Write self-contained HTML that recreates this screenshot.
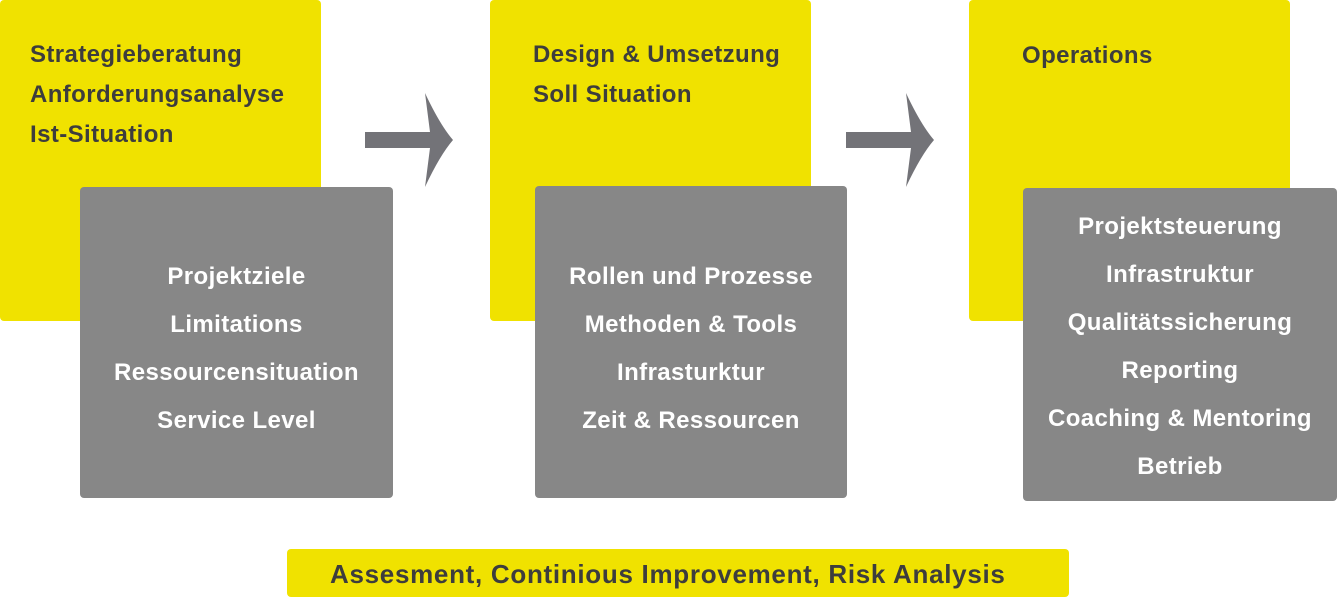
<!DOCTYPE html>
<html><head><meta charset="utf-8"><style>
body{margin:0;width:1337px;height:599px;background:#fff;position:relative;overflow:hidden;font-family:"Liberation Sans",sans-serif;font-weight:bold}
.y{position:absolute;background:#f0e200;border-radius:4px;color:#3d3d3d;font-size:24px;letter-spacing:0.4px}
.g{position:absolute;background:#878787;border-radius:4px;color:#fff;font-size:24px;letter-spacing:0.4px;text-align:center}
.y div{position:absolute;left:30px;height:40px;line-height:40px;white-space:nowrap}
.g div{height:48px;line-height:48px;white-space:nowrap}
</style></head><body>
<div class="y" style="left:0;top:0;width:321px;height:321px">
<div style="top:35px">Strategieberatung</div><div style="top:75px">Anforderungsanalyse</div><div style="top:115px">Ist-Situation</div></div>
<div class="g" style="left:80px;top:187px;width:313px;height:311px;padding-top:66px;box-sizing:border-box">
<div>Projektziele</div><div>Limitations</div><div>Ressourcensituation</div><div>Service Level</div></div>
<div class="y" style="left:490px;top:0;width:321px;height:321px">
<div style="top:35px;left:43px">Design &amp; Umsetzung</div><div style="top:75px;left:43px">Soll Situation</div></div>
<div class="g" style="left:535px;top:186px;width:312px;height:312px;padding-top:67px;box-sizing:border-box">
<div>Rollen und Prozesse</div><div>Methoden &amp; Tools</div><div>Infrasturktur</div><div>Zeit &amp; Ressourcen</div></div>
<div class="y" style="left:969px;top:0;width:321px;height:321px">
<div style="top:36px;left:53px">Operations</div></div>
<div class="g" style="left:1023px;top:188px;width:314px;height:313px;padding-top:15px;box-sizing:border-box">
<div>Projektsteuerung</div><div>Infrastruktur</div><div>Qualitätssicherung</div><div>Reporting</div><div>Coaching &amp; Mentoring</div><div>Betrieb</div></div>
<div class="y" style="left:287px;top:549px;width:782px;height:48px;font-size:26px;letter-spacing:0.7px;line-height:50px;white-space:nowrap"><span style="position:absolute;left:43px;top:0">Assesment, Continious Improvement, Risk Analysis</span></div>
<svg width="1337" height="599" style="position:absolute;left:0;top:0">
<g fill="#737378">
<path d="M365 132 H430 L425 93 Q440 125 453 140 Q440 155 425 187 L430 148 H365 Z"/>
<path d="M846 132 H911 L906 93 Q921 125 934 140 Q921 155 906 187 L911 148 H846 Z"/>
</g></svg>
</body></html>
